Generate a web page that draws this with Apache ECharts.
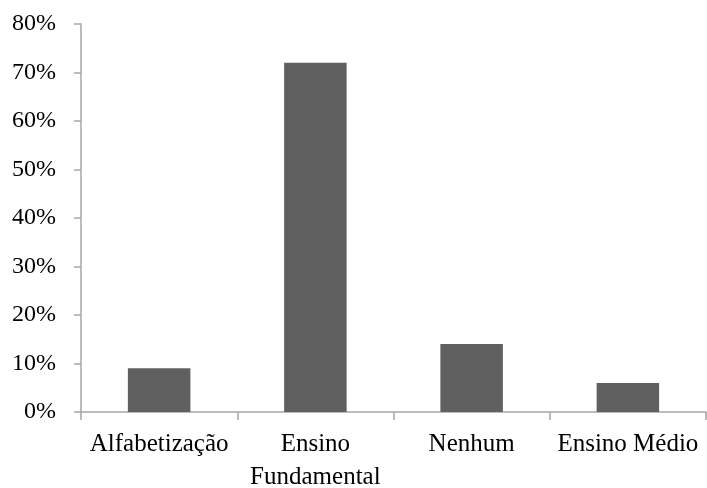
<!DOCTYPE html>
<html>
<head>
<meta charset="utf-8">
<script src="https://cdn.jsdelivr.net/npm/echarts@6/dist/echarts.min.js"></script>
<style>
  html, body { margin: 0; padding: 0; background: #fff; }
  #chart { width: 707px; height: 488px; }
</style>
</head>
<body>
<div id="chart"></div>
<script>
const categories = ['Alfabetização', 'Ensino\nFundamental', 'Nenhum', 'Ensino Médio']
const shares = [9, 72, 14, 6]
const yTicks = [0, 10, 20, 30, 40, 50, 60, 70, 80]

const axisGray = '#a6a6a6'
const barGray = '#606060'
const font = '"Liberation Serif", "DejaVu Serif", serif'

const chart = echarts.init(document.getElementById('chart'))

chart.setOption({
  backgroundColor: '#fff',
  animation: false,
  grid: { left: 81, right: 1, top: 24, bottom: 76, containLabel: false, outerBoundsMode: 'none' },
  xAxis: {
    type: 'category',
    data: categories,
    axisLine: { lineStyle: { color: axisGray, width: 1.5 } },
    axisTick: { show: true, length: 8, alignWithLabel: false, lineStyle: { color: axisGray, width: 1.5 } },
    axisLabel: {
      color: '#000',
      fontFamily: font,
      fontSize: 25,
      lineHeight: 33,
      margin: 16,
      interval: 0,
    },
  },
  yAxis: {
    type: 'value',
    min: yTicks[0],
    max: yTicks[yTicks.length - 1],
    interval: 10,
    splitLine: { show: false },
    axisLine: { show: true, lineStyle: { color: axisGray, width: 1.5 } },
    axisTick: { show: true, length: 7, lineStyle: { color: axisGray, width: 1.5 } },
    axisLabel: {
      color: '#000',
      fontFamily: font,
      fontSize: 24,
      margin: 25,
      formatter: (v) => v + '%',
    },
  },
  series: [
    {
      type: 'bar',
      data: shares,
      barWidth: '40%',
      itemStyle: { color: barGray },
    },
  ],
})
</script>
</body>
</html>
